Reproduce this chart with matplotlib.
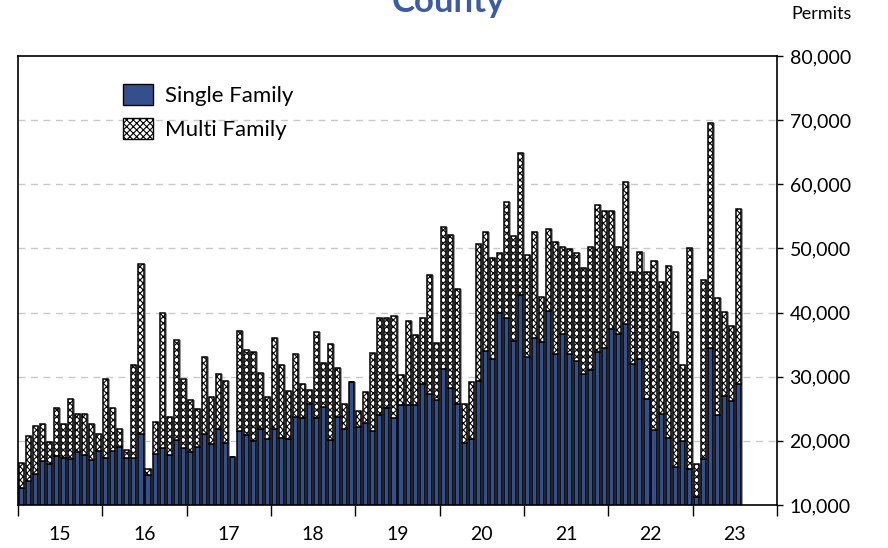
import numpy as np
import matplotlib
matplotlib.use("Agg")
import matplotlib.pyplot as plt
from matplotlib.patches import Patch
from matplotlib.ticker import FuncFormatter, FixedLocator

plt.rcParams['font.family'] = ['Lato', 'DejaVu Sans']
plt.rcParams['hatch.linewidth'] = 0.8

# monthly permits (thousands), Jan 2015 .. Jul 2023
single_k = [
    12.6, 13.7, 14.9, 16.8, 16.4, 17.7, 17.4, 17.1, 18.2, 17.8, 17.0, 18.4,
    17.4, 18.4, 19.1, 17.4, 17.4, 21.1, 14.6, 18.0, 18.9, 17.8, 20.1, 18.9,
    18.3, 19.1, 21.1, 19.5, 21.8, 19.6, 17.5, 21.6, 20.9, 20.0, 21.8, 20.3,
    21.8, 20.4, 20.3, 23.7, 23.5, 25.8, 23.5, 25.3, 20.1, 23.7, 21.8, 29.1,
    22.2, 22.8, 21.5, 24.0, 25.1, 23.6, 25.6, 25.6, 25.6, 28.8, 27.3, 26.4,
    31.2, 28.2, 25.7, 19.6, 20.3, 29.3, 34.0, 32.7, 40.0, 39.2, 35.6, 42.7,
    33.1, 36.1, 35.4, 40.3, 33.5, 36.7, 33.6, 32.5, 30.4, 31.0, 33.9, 34.4,
    37.5, 36.7, 38.2, 32.0, 32.8, 26.6, 21.7, 24.2, 20.4, 15.9, 20.0, 15.6,
    11.2, 17.2, 34.5, 24.0, 27.0, 26.2, 28.8,
]
multi_k = [
    3.9, 7.0, 7.4, 5.9, 3.4, 7.4, 5.3, 9.5, 6.0, 6.4, 5.7, 2.6,
    12.3, 6.8, 2.7, 1.2, 14.5, 26.5, 1.0, 4.9, 21.0, 5.9, 15.7, 10.8,
    8.1, 5.9, 12.0, 7.4, 8.6, 9.8, 0.0, 15.6, 13.2, 13.8, 8.8, 6.6,
    14.2, 11.4, 7.4, 9.9, 5.4, 2.1, 13.4, 6.8, 15.0, 7.7, 4.0, 0.0,
    2.5, 4.8, 12.2, 15.2, 14.1, 15.8, 4.6, 13.1, 10.9, 10.4, 18.6, 8.9,
    22.1, 23.9, 18.0, 6.2, 8.8, 21.4, 18.5, 15.8, 9.3, 18.0, 16.3, 22.1,
    15.9, 16.5, 7.1, 12.8, 17.5, 13.6, 16.3, 16.8, 16.6, 19.2, 22.9, 21.4,
    18.3, 13.6, 22.2, 14.4, 16.7, 19.8, 26.4, 20.6, 26.8, 21.1, 11.9, 34.5,
    5.2, 27.9, 35.0, 18.3, 13.1, 11.7, 27.3,
]
year_labels = ['15', '16', '17', '18', '19', '20', '21', '22', '23']
y_ticks = [10000, 20000, 30000, 40000, 50000, 60000, 70000, 80000]

single = np.array(single_k) * 1000
multi = np.array(multi_k) * 1000
x = np.arange(len(single)) + 0.5

blue = '#34508C'

fig = plt.figure(figsize=(8.88, 5.48), dpi=100)
ax = fig.add_axes([18 / 888, 1 - 505 / 548, (777 - 18) / 888, (505 - 56) / 548])

# grey drop shadow behind each bar
ax.bar(x + 0.3, single + multi, width=0.7, color='#9C9C9C', linewidth=0, zorder=1)
ax.bar(x, single, width=0.72, color=blue, edgecolor='black', linewidth=1.1, zorder=2)
ax.bar(x, multi, bottom=single, width=0.72, color='white', edgecolor='black',
       hatch='xxxxx', linewidth=1.1, zorder=2)

ax.set_xlim(0, 12 * len(year_labels))
ax.set_ylim(10000, 80000)

for v in y_ticks[1:-1]:
    ax.axhline(v, color='#C8C8C8', linestyle=(0, (5, 4)), linewidth=1.0, zorder=0)

ax.yaxis.tick_right()
ax.set_yticks(y_ticks)
ax.yaxis.set_major_formatter(FuncFormatter(lambda v, p: f'{v:,.0f}'))
ax.tick_params(axis='y', direction='out', length=4, width=1, pad=5, labelsize=14)

ax.xaxis.set_major_locator(FixedLocator(np.arange(0, 12 * len(year_labels) + 1, 12)))
ax.xaxis.set_minor_locator(FixedLocator(np.arange(6, 12 * len(year_labels), 12)))
ax.set_xticklabels([])
ax.set_xticklabels(year_labels, minor=True)
ax.tick_params(axis='x', which='major', direction='out', length=8, width=1)
ax.tick_params(axis='x', which='minor', length=0, pad=15, labelsize=14)

for s in ax.spines.values():
    s.set_linewidth(1.2)
    s.set_color('black')

handles = [Patch(facecolor=blue, edgecolor='black', linewidth=1.0),
           Patch(facecolor='white', edgecolor='black', hatch='xxxxx', linewidth=1.0)]
ax.legend(handles, ['Single Family', 'Multi Family'], loc='upper left',
          bbox_to_anchor=((123 - 18) / 759, (505 - 84) / 449), frameon=False,
          fontsize=16, handlelength=1.35, handleheight=1.05, handletextpad=0.55,
          labelspacing=0.55, borderpad=0, borderaxespad=0)

fig.text(791 / 888, 1 - 14 / 548, 'Permits', fontsize=13, ha='left', va='center')
fig.text(448 / 888, 1 - 12 / 548, 'County', fontsize=25, fontweight='bold',
         color='#3B5BA5', ha='center', va='baseline')

fig.savefig('out.png', dpi=100)
